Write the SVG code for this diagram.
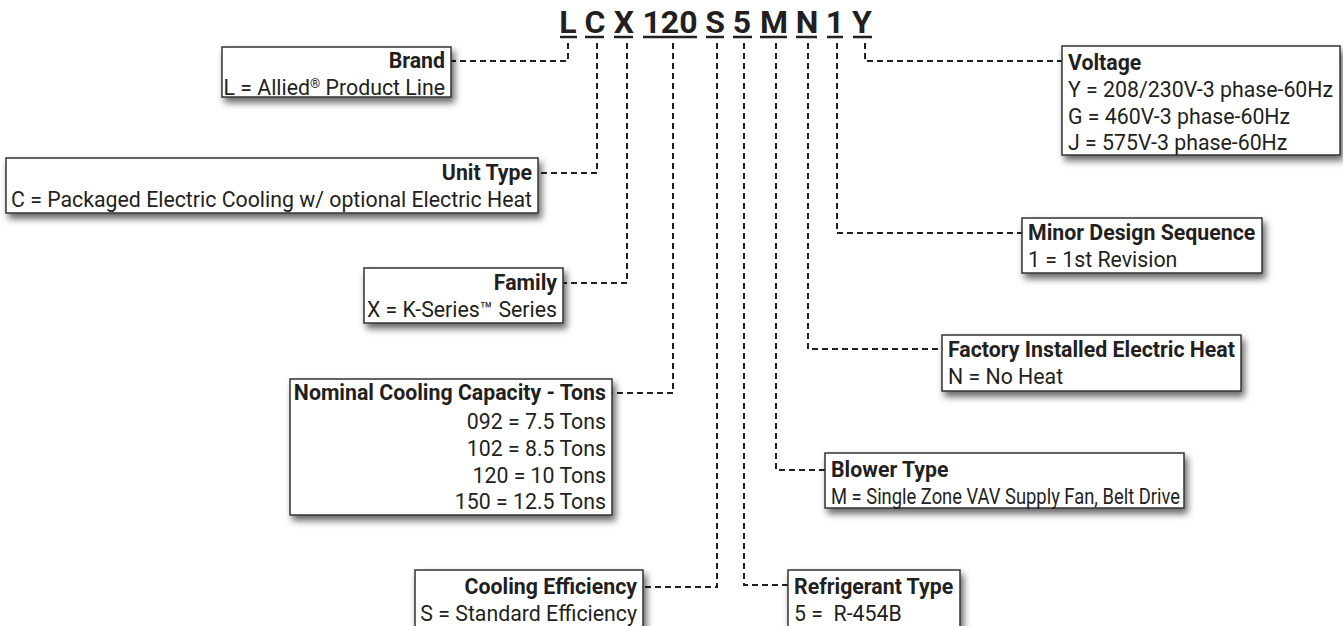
<svg xmlns="http://www.w3.org/2000/svg" width="1343" height="626" viewBox="0 0 1343 626">
<style>
  .code{font-family:Roboto,"Liberation Sans",sans-serif;font-weight:700;font-size:32px;fill:#231f20;text-anchor:middle}
  .ul{stroke:#231f20;stroke-width:2.5}
  .box{fill:#fff;stroke:#333;stroke-width:1.5;filter:url(#sh)}
  .t{font-family:Roboto,"Liberation Sans",sans-serif;font-size:21.3px;fill:#231f20}
  .b{font-weight:700}
  .r{text-anchor:end}
  .sup{font-size:13px}
  .con{fill:none;stroke:#231f20;stroke-width:2;stroke-dasharray:6 4}
</style>
<defs>
  <filter id="sh" x="-10%" y="-20%" width="130%" height="160%">
    <feDropShadow dx="3" dy="5" stdDeviation="3.5" flood-color="#000" flood-opacity="0.6"/>
  </filter>
</defs>
<rect width="1343" height="626" fill="#fff"/>

<g id="code">
  <text class="code" x="568" y="33">L</text>
  <text class="code" x="595" y="33">C</text>
  <text class="code" x="624" y="33">X</text>
  <text class="code" x="670" y="33">120</text>
  <text class="code" x="715" y="33">S</text>
  <text class="code" x="742" y="33">5</text>
  <text class="code" x="774" y="33">M</text>
  <text class="code" x="807" y="33">N</text>
  <text class="code" x="835" y="33">1</text>
  <text class="code" x="862" y="33">Y</text>
  <line class="ul" x1="560" y1="37" x2="577" y2="37"/>
  <line class="ul" x1="585" y1="37" x2="604" y2="37"/>
  <line class="ul" x1="614" y1="37" x2="633" y2="37"/>
  <line class="ul" x1="643" y1="37" x2="697" y2="37"/>
  <line class="ul" x1="706" y1="37" x2="724" y2="37"/>
  <line class="ul" x1="733" y1="37" x2="752" y2="37"/>
  <line class="ul" x1="760" y1="37" x2="787" y2="37"/>
  <line class="ul" x1="796" y1="37" x2="817" y2="37"/>
  <line class="ul" x1="827" y1="37" x2="843" y2="37"/>
  <line class="ul" x1="853" y1="37" x2="872" y2="37"/>
</g>

<g id="connectors">
  <path class="con" d="M568,43 V61 H451"/>
  <path class="con" d="M597,43 V173 H538"/>
  <path class="con" d="M627,43 V283 H563"/>
  <path class="con" d="M673,43 V393 H612"/>
  <path class="con" d="M717,43 V587 H643"/>
  <path class="con" d="M744,43 V585 H788"/>
  <path class="con" d="M776,43 V470 H825"/>
  <path class="con" d="M808,43 V349 H942"/>
  <path class="con" d="M837,43 V233 H1022"/>
  <path class="con" d="M865,43 V61 H1062"/>
</g>

<g id="brand">
  <rect class="box" x="222" y="47" width="229" height="50"/>
  <text class="t b r" x="445" y="68">Brand</text>
  <text class="t r" x="445" y="95">L = Allied<tspan class="sup" dy="-7">®</tspan><tspan dy="7"> Product Line</tspan></text>
</g>

<g id="unit-type">
  <rect class="box" x="6" y="158" width="532" height="55"/>
  <text class="t b r" x="532" y="180">Unit Type</text>
  <text class="t r" x="532" y="207">C = Packaged Electric Cooling w/ optional Electric Heat</text>
</g>

<g id="family">
  <rect class="box" x="364" y="268" width="199" height="55"/>
  <text class="t b r" x="557" y="290">Family</text>
  <text class="t r" x="557" y="317">X = K-Series™ Series</text>
</g>

<g id="capacity">
  <rect class="box" x="290" y="379" width="322" height="136"/>
  <text class="t b r" x="606" y="400">Nominal Cooling Capacity - Tons</text>
  <text class="t r" x="606" y="429">092 = 7.5 Tons</text>
  <text class="t r" x="606" y="456">102 = 8.5 Tons</text>
  <text class="t r" x="606" y="482.5">120 = 10 Tons</text>
  <text class="t r" x="606" y="509">150 = 12.5 Tons</text>
</g>

<g id="efficiency">
  <rect class="box" x="415" y="570" width="228" height="70"/>
  <text class="t b r" x="637" y="594">Cooling Efficiency</text>
  <text class="t r" x="637" y="621">S = Standard Efficiency</text>
</g>

<g id="voltage">
  <rect class="box" x="1062" y="46" width="278" height="109"/>
  <text class="t b" x="1068" y="70">Voltage</text>
  <text class="t" x="1068" y="97">Y = 208/230V-3 phase-60Hz</text>
  <text class="t" x="1068" y="123.5">G = 460V-3 phase-60Hz</text>
  <text class="t" x="1068" y="150">J = 575V-3 phase-60Hz</text>
</g>

<g id="minor-design">
  <rect class="box" x="1022" y="218" width="240" height="55"/>
  <text class="t b" x="1028" y="240">Minor Design Sequence</text>
  <text class="t" x="1028" y="267">1 = 1st Revision</text>
</g>

<g id="electric-heat">
  <rect class="box" x="942" y="335" width="299" height="56"/>
  <text class="t b" x="948" y="357">Factory Installed Electric Heat</text>
  <text class="t" x="948" y="384">N = No Heat</text>
</g>

<g id="blower">
  <rect class="box" x="825" y="453" width="359" height="55"/>
  <text class="t b" x="831" y="477">Blower Type</text>
  <text class="t" x="831" y="504" textLength="349" lengthAdjust="spacingAndGlyphs">M = Single Zone VAV Supply Fan, Belt Drive</text>
</g>

<g id="refrigerant">
  <rect class="box" x="788" y="570" width="172" height="70"/>
  <text class="t b" x="794" y="594">Refrigerant Type</text>
  <text class="t" x="794" y="621" style="white-space:pre">5 =  R-454B</text>
</g>
</svg>
